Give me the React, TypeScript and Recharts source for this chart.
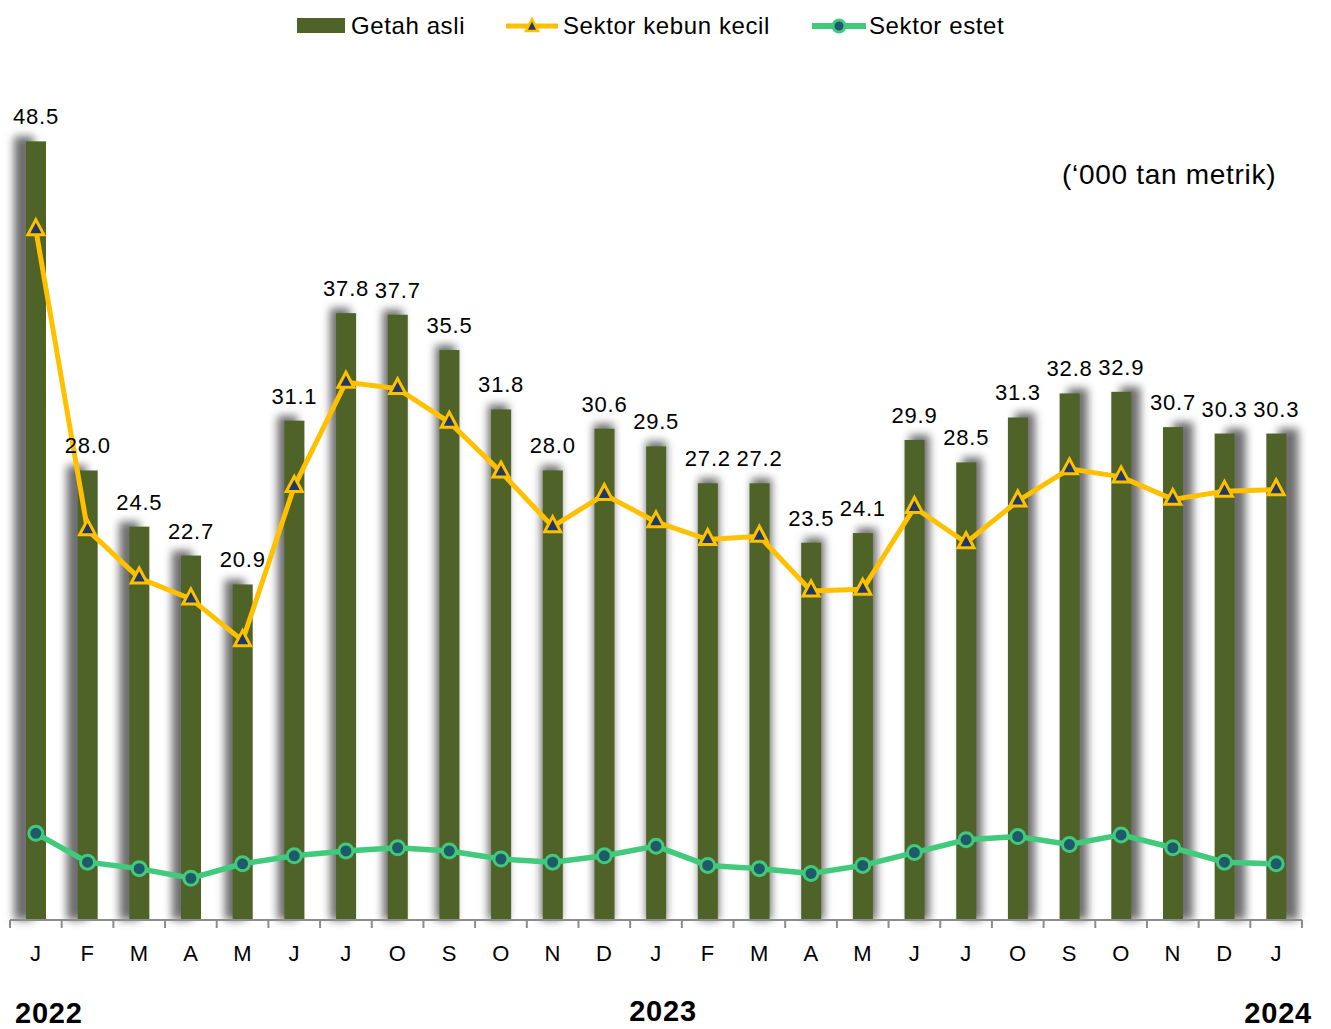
import { ComposedChart, Bar, Line, XAxis, YAxis, LabelList } from 'recharts'

const months = ['J', 'F', 'M', 'A', 'M', 'J', 'J', 'O', 'S', 'O', 'N', 'D', 'J', 'F', 'M', 'A', 'M', 'J', 'J', 'O', 'S', 'O', 'N', 'D', 'J']
const getahAsli = [48.5, 28.0, 24.5, 22.7, 20.9, 31.1, 37.8, 37.7, 35.5, 31.8, 28.0, 30.6, 29.5, 27.2, 27.2, 23.5, 24.1, 29.9, 28.5, 31.3, 32.8, 32.9, 30.7, 30.3, 30.3]
const kebunKecil = [43.0, 24.3, 21.3, 20.0, 17.4, 27.0, 33.5, 33.1, 31.0, 27.9, 24.5, 26.5, 24.8, 23.7, 23.9, 20.5, 20.6, 25.7, 23.5, 26.1, 28.1, 27.6, 26.2, 26.7, 26.8]
const estet = [5.4, 3.6, 3.2, 2.6, 3.5, 4.0, 4.3, 4.5, 4.3, 3.8, 3.6, 4.0, 4.6, 3.4, 3.2, 2.9, 3.4, 4.2, 5.0, 5.2, 4.7, 5.3, 4.5, 3.6, 3.5]
const years = ['2022', '2023', '2024']
const yearAt = [0, 12, 24]

const data = months.map((m, i) => ({
  month: m,
  getah: getahAsli[i],
  kecil: kebunKecil[i],
  estet: estet[i],
}))

const FONT = '"Liberation Sans", Arial, sans-serif'
const OLIVE = '#4f6228'
const YELLOW = '#ffc000'
const GREEN = '#41c97c'
const NAVY = '#1f3864'
const TEAL = '#1f5a6b'

const W = 1331
const H = 1029
const MARGIN = { top: 37, right: 29, left: 10, bottom: 0 }
const BAND = (W - MARGIN.left - MARGIN.right) / months.length
const MID_X = MARGIN.left + (W - MARGIN.left - MARGIN.right) / 2

// perspective-ish drop shadow: pushed outward from the chart centre
function ShadowBar(props: any) {
  const { x, y, width, height, fill, index } = props
  const cx = x + width / 2
  const dx = ((cx - MID_X) / 620) * 12
  return (
    <g>
      {index === 0 && (
        <defs>
          <filter id="barBlur" x="-150%" y="-10%" width="400%" height="120%">
            <feGaussianBlur stdDeviation="4" />
          </filter>
        </defs>
      )}
      <rect x={x + dx} y={y - 5} width={width} height={height + 5} fill="#555" opacity={0.85} filter="url(#barBlur)" />
      <rect x={x} y={y} width={width} height={height} fill={fill} />
    </g>
  )
}

function TriangleDot(props: any) {
  const { cx, cy } = props
  if (cx == null || cy == null) return null
  return (
    <polygon
      points={`${cx},${cy - 10} ${cx + 8},${cy + 5} ${cx - 8},${cy + 5}`}
      fill={NAVY}
      stroke={YELLOW}
      strokeWidth={3}
    />
  )
}

function CircleDot(props: any) {
  const { cx, cy } = props
  if (cx == null || cy == null) return null
  return <circle cx={cx} cy={cy} r={7} fill={TEAL} stroke={GREEN} strokeWidth={3} />
}

function MonthTick(props: any) {
  const { x, y, payload, index } = props
  const yi = yearAt.indexOf(index)
  const yearShift = [13, 7, 2]
  return (
    <g>
      <line x1={x - BAND / 2} y1={y} x2={x - BAND / 2} y2={y + 8} stroke="#8c8c8c" strokeWidth={2} />
      {index === months.length - 1 && (
        <line x1={x + BAND / 2} y1={y} x2={x + BAND / 2} y2={y + 8} stroke="#8c8c8c" strokeWidth={2} />
      )}
      <text x={x} y={y + 41} textAnchor="middle" fontFamily={FONT} fontSize={22} letterSpacing={0.5} fill="#000">
        {payload.value}
      </text>
      {yi >= 0 && (
        <text
          x={x + yearShift[yi]}
          y={y + (yi === 1 ? 101 : 103)}
          textAnchor="middle"
          fontFamily={FONT}
          fontSize={29}
          fontWeight="bold"
          letterSpacing={0.8}
          fill="#000"
        >
          {years[yi]}
        </text>
      )}
    </g>
  )
}

function BarValue(props: any) {
  const { x, y, width, value } = props
  return (
    <text x={x + width / 2} y={y - 17} textAnchor="middle" fontFamily={FONT} fontSize={22} letterSpacing={0.8} fill="#000">
      {Number(value).toFixed(1)}
    </text>
  )
}

function LegendBar() {
  const txt = { fontFamily: FONT, fontSize: 24, letterSpacing: 0.6, fill: '#000' }
  return (
    <svg width={W} height={50} style={{ position: 'absolute', left: 0, top: 0 }}>
      <rect x={297} y={18} width={48} height={15} fill={OLIVE} />
      <text x={351} y={34} {...txt}>Getah asli</text>
      <line x1={506} y1={26} x2={558} y2={26} stroke={YELLOW} strokeWidth={5} />
      <polygon points="532,19 538,31 526,31" fill={NAVY} stroke={YELLOW} strokeWidth={2.5} />
      <text x={563} y={34} {...txt}>Sektor kebun kecil</text>
      <line x1={812} y1={26} x2={866} y2={26} stroke={GREEN} strokeWidth={6} />
      <circle cx={839} cy={26} r={6} fill={TEAL} stroke={GREEN} strokeWidth={3} />
      <text x={869} y={34} {...txt}>Sektor estet</text>
    </svg>
  )
}

export default function App() {
  return (
    <div style={{ position: 'absolute', left: 0, top: 0, width: W, height: H, background: '#fff' }}>
      <ComposedChart width={W} height={H} data={data} margin={MARGIN}>
        <XAxis
          dataKey="month"
          interval={0}
          tickLine={false}
          tickSize={0}
          tickMargin={0}
          height={109}
          axisLine={{ stroke: '#8c8c8c', strokeWidth: 2 }}
          tick={<MonthTick />}
        />
        <YAxis hide domain={[0, 55]} />
        <Bar dataKey="getah" fill={OLIVE} barSize={20} shape={<ShadowBar />} isAnimationActive={false}>
          <LabelList dataKey="getah" content={<BarValue />} />
        </Bar>
        <Line dataKey="kecil" stroke={YELLOW} strokeWidth={5} dot={<TriangleDot />} activeDot={false} isAnimationActive={false} />
        <Line dataKey="estet" stroke={GREEN} strokeWidth={5.5} dot={<CircleDot />} activeDot={false} isAnimationActive={false} />
      </ComposedChart>
      <LegendBar />
      <div
        style={{
          position: 'absolute',
          left: 1062,
          top: 159,
          fontFamily: FONT,
          fontSize: 28,
          letterSpacing: 0.7,
          color: '#000',
          whiteSpace: 'nowrap',
        }}
      >
        (‘000 tan metrik)
      </div>
    </div>
  )
}
